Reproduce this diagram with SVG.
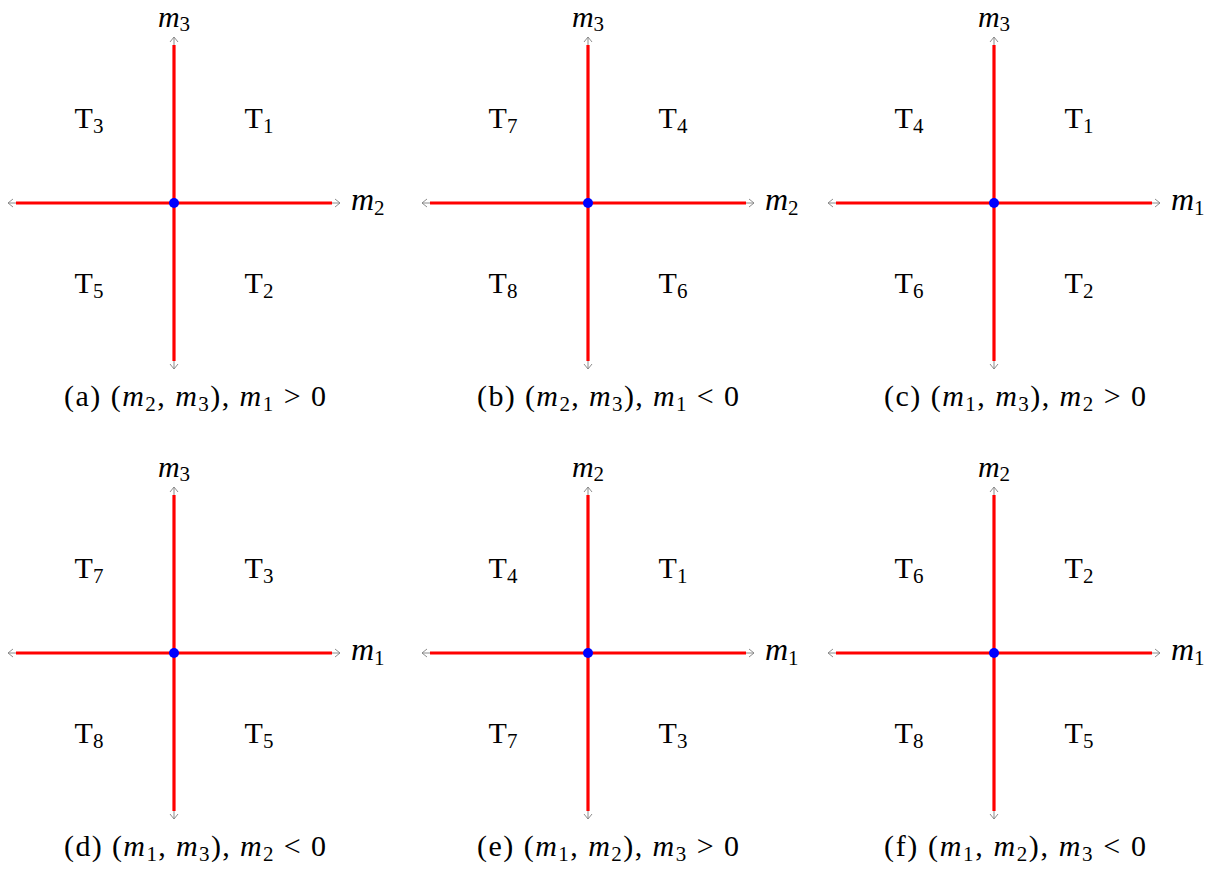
<svg xmlns="http://www.w3.org/2000/svg" width="1227" height="877" viewBox="0 0 1227 877">
<style>
.ax{stroke:#808080;stroke-width:0.9;fill:none;marker-start:url(#arr);marker-end:url(#arr)}
.rd{stroke:#ff0000;stroke-width:3.2;fill:none}
.dot{fill:#0000ff}
text{font-family:"Liberation Serif","DejaVu Serif",serif;fill:#000}
.t{font-size:30px;text-anchor:middle}
.lb{font-size:32px;font-style:italic}
.top{font-size:30px}
.sub{font-size:21px;font-style:normal}
.cap{font-size:30px;text-anchor:middle}
.it{font-style:italic}
</style>
<defs>
<marker id="arr" viewBox="-6 -5 8 10" markerWidth="8" markerHeight="10" refX="0" refY="0" orient="auto-start-reverse" markerUnits="userSpaceOnUse">
<path d="M-5,-4 L0,0 L-5,4" fill="none" stroke="#808080" stroke-width="0.9"/>
</marker>
</defs>

<g id="panel-a" transform="translate(174,203)">
<g id="a-connectors">
<line class="ax" x1="-166" y1="0" x2="166" y2="0"/>
<line class="ax" x1="0" y1="166" x2="0" y2="-166"/>
<line class="rd" x1="-158" y1="0" x2="158" y2="0"/>
<line class="rd" x1="0" y1="-158" x2="0" y2="158"/>
</g>
<g id="a-origin"><circle class="dot" cx="0" cy="0" r="5"/></g>
<g id="a-yaxis-label"><text class="lb top" x="0" y="-176" text-anchor="middle">m<tspan class="sub" dy="4">3</tspan></text></g>
<g id="a-xaxis-label"><text class="lb" x="177" y="7">m<tspan class="sub" dy="5">2</tspan></text></g>
<g id="a-T3"><text class="t" x="-85" y="-75">T<tspan class="sub" dy="5">3</tspan></text></g>
<g id="a-T1"><text class="t" x="85" y="-75">T<tspan class="sub" dy="5">1</tspan></text></g>
<g id="a-T5"><text class="t" x="-85" y="90">T<tspan class="sub" dy="5">5</tspan></text></g>
<g id="a-T2"><text class="t" x="85" y="90">T<tspan class="sub" dy="5">2</tspan></text></g>
<g id="a-caption"><text class="cap" x="21" y="203" textLength="262" lengthAdjust="spacing">(a) (<tspan class="it">m</tspan><tspan class="sub" dy="5">2</tspan><tspan dy="-5">, </tspan><tspan class="it">m</tspan><tspan class="sub" dy="5">3</tspan><tspan dy="-5">), </tspan><tspan class="it">m</tspan><tspan class="sub" dy="5">1</tspan><tspan dy="-5"> &gt; 0</tspan></text></g>
</g>

<g id="panel-b" transform="translate(588,203)">
<g id="b-connectors">
<line class="ax" x1="-166" y1="0" x2="166" y2="0"/>
<line class="ax" x1="0" y1="166" x2="0" y2="-166"/>
<line class="rd" x1="-158" y1="0" x2="158" y2="0"/>
<line class="rd" x1="0" y1="-158" x2="0" y2="158"/>
</g>
<g id="b-origin"><circle class="dot" cx="0" cy="0" r="5"/></g>
<g id="b-yaxis-label"><text class="lb top" x="0" y="-176" text-anchor="middle">m<tspan class="sub" dy="4">3</tspan></text></g>
<g id="b-xaxis-label"><text class="lb" x="177" y="7">m<tspan class="sub" dy="5">2</tspan></text></g>
<g id="b-T7"><text class="t" x="-85" y="-75">T<tspan class="sub" dy="5">7</tspan></text></g>
<g id="b-T4"><text class="t" x="85" y="-75">T<tspan class="sub" dy="5">4</tspan></text></g>
<g id="b-T8"><text class="t" x="-85" y="90">T<tspan class="sub" dy="5">8</tspan></text></g>
<g id="b-T6"><text class="t" x="85" y="90">T<tspan class="sub" dy="5">6</tspan></text></g>
<g id="b-caption"><text class="cap" x="20" y="203" textLength="262" lengthAdjust="spacing">(b) (<tspan class="it">m</tspan><tspan class="sub" dy="5">2</tspan><tspan dy="-5">, </tspan><tspan class="it">m</tspan><tspan class="sub" dy="5">3</tspan><tspan dy="-5">), </tspan><tspan class="it">m</tspan><tspan class="sub" dy="5">1</tspan><tspan dy="-5"> &lt; 0</tspan></text></g>
</g>

<g id="panel-c" transform="translate(994,203)">
<g id="c-connectors">
<line class="ax" x1="-166" y1="0" x2="166" y2="0"/>
<line class="ax" x1="0" y1="166" x2="0" y2="-166"/>
<line class="rd" x1="-158" y1="0" x2="158" y2="0"/>
<line class="rd" x1="0" y1="-158" x2="0" y2="158"/>
</g>
<g id="c-origin"><circle class="dot" cx="0" cy="0" r="5"/></g>
<g id="c-yaxis-label"><text class="lb top" x="0" y="-176" text-anchor="middle">m<tspan class="sub" dy="4">3</tspan></text></g>
<g id="c-xaxis-label"><text class="lb" x="177" y="7">m<tspan class="sub" dy="5">1</tspan></text></g>
<g id="c-T4"><text class="t" x="-85" y="-75">T<tspan class="sub" dy="5">4</tspan></text></g>
<g id="c-T1"><text class="t" x="85" y="-75">T<tspan class="sub" dy="5">1</tspan></text></g>
<g id="c-T6"><text class="t" x="-85" y="90">T<tspan class="sub" dy="5">6</tspan></text></g>
<g id="c-T2"><text class="t" x="85" y="90">T<tspan class="sub" dy="5">2</tspan></text></g>
<g id="c-caption"><text class="cap" x="21" y="203" textLength="262" lengthAdjust="spacing">(c) (<tspan class="it">m</tspan><tspan class="sub" dy="5">1</tspan><tspan dy="-5">, </tspan><tspan class="it">m</tspan><tspan class="sub" dy="5">3</tspan><tspan dy="-5">), </tspan><tspan class="it">m</tspan><tspan class="sub" dy="5">2</tspan><tspan dy="-5"> &gt; 0</tspan></text></g>
</g>

<g id="panel-d" transform="translate(174,653)">
<g id="d-connectors">
<line class="ax" x1="-166" y1="0" x2="166" y2="0"/>
<line class="ax" x1="0" y1="166" x2="0" y2="-166"/>
<line class="rd" x1="-158" y1="0" x2="158" y2="0"/>
<line class="rd" x1="0" y1="-158" x2="0" y2="158"/>
</g>
<g id="d-origin"><circle class="dot" cx="0" cy="0" r="5"/></g>
<g id="d-yaxis-label"><text class="lb top" x="0" y="-176" text-anchor="middle">m<tspan class="sub" dy="4">3</tspan></text></g>
<g id="d-xaxis-label"><text class="lb" x="177" y="7">m<tspan class="sub" dy="5">1</tspan></text></g>
<g id="d-T7"><text class="t" x="-85" y="-75">T<tspan class="sub" dy="5">7</tspan></text></g>
<g id="d-T3"><text class="t" x="85" y="-75">T<tspan class="sub" dy="5">3</tspan></text></g>
<g id="d-T8"><text class="t" x="-85" y="90">T<tspan class="sub" dy="5">8</tspan></text></g>
<g id="d-T5"><text class="t" x="85" y="90">T<tspan class="sub" dy="5">5</tspan></text></g>
<g id="d-caption"><text class="cap" x="21" y="203" textLength="262" lengthAdjust="spacing">(d) (<tspan class="it">m</tspan><tspan class="sub" dy="5">1</tspan><tspan dy="-5">, </tspan><tspan class="it">m</tspan><tspan class="sub" dy="5">3</tspan><tspan dy="-5">), </tspan><tspan class="it">m</tspan><tspan class="sub" dy="5">2</tspan><tspan dy="-5"> &lt; 0</tspan></text></g>
</g>

<g id="panel-e" transform="translate(588,653)">
<g id="e-connectors">
<line class="ax" x1="-166" y1="0" x2="166" y2="0"/>
<line class="ax" x1="0" y1="166" x2="0" y2="-166"/>
<line class="rd" x1="-158" y1="0" x2="158" y2="0"/>
<line class="rd" x1="0" y1="-158" x2="0" y2="158"/>
</g>
<g id="e-origin"><circle class="dot" cx="0" cy="0" r="5"/></g>
<g id="e-yaxis-label"><text class="lb top" x="0" y="-176" text-anchor="middle">m<tspan class="sub" dy="4">2</tspan></text></g>
<g id="e-xaxis-label"><text class="lb" x="177" y="7">m<tspan class="sub" dy="5">1</tspan></text></g>
<g id="e-T4"><text class="t" x="-85" y="-75">T<tspan class="sub" dy="5">4</tspan></text></g>
<g id="e-T1"><text class="t" x="85" y="-75">T<tspan class="sub" dy="5">1</tspan></text></g>
<g id="e-T7"><text class="t" x="-85" y="90">T<tspan class="sub" dy="5">7</tspan></text></g>
<g id="e-T3"><text class="t" x="85" y="90">T<tspan class="sub" dy="5">3</tspan></text></g>
<g id="e-caption"><text class="cap" x="20" y="203" textLength="262" lengthAdjust="spacing">(e) (<tspan class="it">m</tspan><tspan class="sub" dy="5">1</tspan><tspan dy="-5">, </tspan><tspan class="it">m</tspan><tspan class="sub" dy="5">2</tspan><tspan dy="-5">), </tspan><tspan class="it">m</tspan><tspan class="sub" dy="5">3</tspan><tspan dy="-5"> &gt; 0</tspan></text></g>
</g>

<g id="panel-f" transform="translate(994,653)">
<g id="f-connectors">
<line class="ax" x1="-166" y1="0" x2="166" y2="0"/>
<line class="ax" x1="0" y1="166" x2="0" y2="-166"/>
<line class="rd" x1="-158" y1="0" x2="158" y2="0"/>
<line class="rd" x1="0" y1="-158" x2="0" y2="158"/>
</g>
<g id="f-origin"><circle class="dot" cx="0" cy="0" r="5"/></g>
<g id="f-yaxis-label"><text class="lb top" x="0" y="-176" text-anchor="middle">m<tspan class="sub" dy="4">2</tspan></text></g>
<g id="f-xaxis-label"><text class="lb" x="177" y="7">m<tspan class="sub" dy="5">1</tspan></text></g>
<g id="f-T6"><text class="t" x="-85" y="-75">T<tspan class="sub" dy="5">6</tspan></text></g>
<g id="f-T2"><text class="t" x="85" y="-75">T<tspan class="sub" dy="5">2</tspan></text></g>
<g id="f-T8"><text class="t" x="-85" y="90">T<tspan class="sub" dy="5">8</tspan></text></g>
<g id="f-T5"><text class="t" x="85" y="90">T<tspan class="sub" dy="5">5</tspan></text></g>
<g id="f-caption"><text class="cap" x="21" y="203" textLength="262" lengthAdjust="spacing">(f) (<tspan class="it">m</tspan><tspan class="sub" dy="5">1</tspan><tspan dy="-5">, </tspan><tspan class="it">m</tspan><tspan class="sub" dy="5">2</tspan><tspan dy="-5">), </tspan><tspan class="it">m</tspan><tspan class="sub" dy="5">3</tspan><tspan dy="-5"> &lt; 0</tspan></text></g>
</g>
</svg>
